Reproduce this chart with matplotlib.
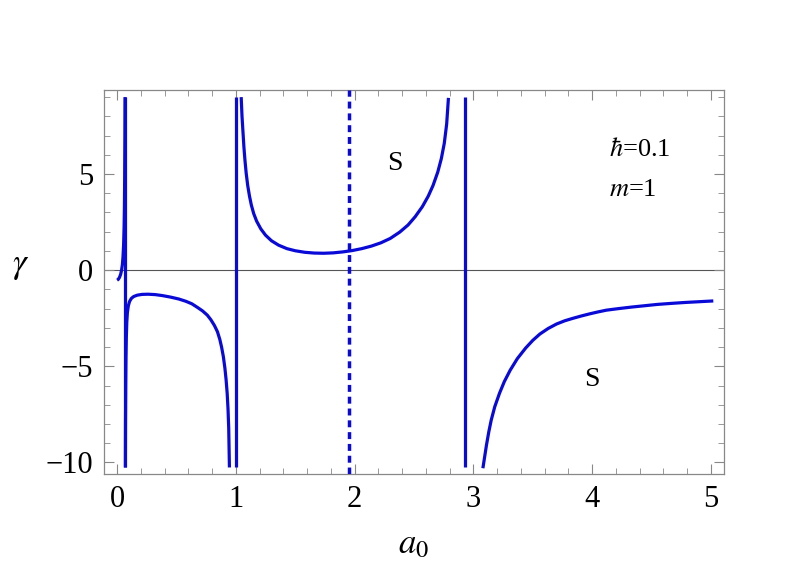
import matplotlib
matplotlib.use("Agg")
import matplotlib.pyplot as plt
from matplotlib.ticker import MultipleLocator

plt.rcParams['font.family'] = ['Liberation Serif', 'DejaVu Serif']
plt.rcParams['mathtext.fontset'] = 'stix'

# branch near 0 (rising to +inf)
b1_x = [0.0, 0.01, 0.02, 0.03, 0.038, 0.045, 0.05, 0.055, 0.059, 0.062, 0.064, 0.066, 0.067]
b1_y = [-0.52, -0.48, -0.38, -0.22, 0.0, 0.3, 0.7, 1.3, 2.2, 3.3, 4.8, 7.0, 9.0]

# branch between 0.07 and 1 (negative)
b2_x = [0.070, 0.071, 0.073, 0.075, 0.078, 0.082, 0.087, 0.095, 0.105, 0.12, 0.14, 0.17, 0.21, 0.26, 0.32, 0.38, 0.45, 0.52, 0.58, 0.63, 0.68, 0.72, 0.76, 0.79, 0.82, 0.845, 0.865, 0.88, 0.895, 0.908, 0.918, 0.927, 0.934, 0.940, 0.946]
b2_y = [-10.26, -8.0, -6.0, -4.6, -3.5, -2.7, -2.2, -1.85, -1.63, -1.47, -1.37, -1.30, -1.26, -1.25, -1.27, -1.32, -1.40, -1.50, -1.62, -1.75, -1.95, -2.12, -2.34, -2.58, -2.88, -3.2, -3.6, -4.0, -4.5, -5.1, -5.7, -6.4, -7.2, -8.2, -10.26]

# branch between 1 and 2.93 (positive)
b3_x = [1.045, 1.052, 1.06, 1.068, 1.077, 1.087, 1.10, 1.115, 1.13, 1.15, 1.175, 1.21, 1.25, 1.30, 1.36, 1.43, 1.50, 1.58, 1.66, 1.74, 1.82, 1.90, 1.98, 2.06, 2.14, 2.22, 2.30, 2.38, 2.45, 2.51, 2.57, 2.62, 2.66, 2.70, 2.73, 2.755, 2.775, 2.79]
b3_y = [9.0, 8.0, 7.2, 6.4, 5.7, 5.05, 4.4, 3.85, 3.4, 2.95, 2.55, 2.15, 1.82, 1.53, 1.3, 1.12, 1.01, 0.93, 0.89, 0.88, 0.9, 0.95, 1.02, 1.12, 1.25, 1.42, 1.65, 1.98, 2.35, 2.78, 3.3, 3.85, 4.4, 5.1, 5.8, 6.6, 7.6, 8.96]

# branch after 2.93 (negative)
b4_x = [3.08, 3.095, 3.11, 3.13, 3.15, 3.18, 3.22, 3.26, 3.31, 3.37, 3.44, 3.50, 3.56, 3.63, 3.70, 3.77, 3.84, 3.91, 3.98, 4.05, 4.12, 4.22, 4.33, 4.44, 4.55, 4.66, 4.78, 4.90, 5.02]
b4_y = [-10.3, -9.7, -9.1, -8.4, -7.8, -7.1, -6.4, -5.8, -5.2, -4.6, -4.05, -3.65, -3.32, -3.03, -2.8, -2.63, -2.5, -2.38, -2.27, -2.17, -2.08, -2.0, -1.92, -1.85, -1.78, -1.73, -1.68, -1.64, -1.6]

# vertical asymptote lines
vlines_x = [0.067, 1.0, 2.93]
dashed_x = 1.95
y_clip = [-10.26, 9.0]

blue = '#0a0ad8'

fig = plt.figure(figsize=(8.0, 5.61), dpi=100)
ax = fig.add_axes([104/800, 1-474/561, (724-104)/800, (474-90)/561])

ax.axhline(0, color='#555555', lw=0.8, zorder=1)
for xs, ys in [(b1_x, b1_y), (b2_x, b2_y), (b3_x, b3_y), (b4_x, b4_y)]:
    ax.plot(xs, ys, color=blue, lw=2.3, solid_capstyle='butt', solid_joinstyle='round', zorder=3)
for xv in vlines_x:
    ax.plot([xv, xv], y_clip, color=blue, lw=2.3, solid_capstyle='butt', zorder=3)
ax.plot([dashed_x, dashed_x], [-10.6, 9.37], color=blue, lw=2.5, ls=(0, (2.0, 1.4)), zorder=3)

ax.set_xlim(-0.11, 5.11)
ax.set_ylim(-10.6, 9.37)

ax.xaxis.set_major_locator(MultipleLocator(1))
ax.xaxis.set_minor_locator(MultipleLocator(0.2))
ax.yaxis.set_major_locator(MultipleLocator(5))
ax.yaxis.set_minor_locator(MultipleLocator(1))
ax.tick_params(which='both', direction='in', top=True, right=True, color='#888888')
ax.tick_params(which='major', length=7, width=0.8, labelsize=22, pad=8)
ax.tick_params(which='minor', length=4, width=0.6)
for s in ax.spines.values():
    s.set_color('#888888')
    s.set_linewidth(0.9)

ax.set_xlabel(r'$a_0$', fontsize=25, labelpad=10)
ax.set_ylabel(r'$\gamma$', fontsize=25, rotation=0, labelpad=14)
ax.yaxis.set_label_coords(-0.135, 0.5)

ax.text(2.34, 5.57, 'S', fontsize=20, ha='center', va='center')
ax.text(4.0, -5.7, 'S', fontsize=20, ha='center', va='center')
ax.text(4.14, 6.25, r'$\hbar$=0.1', fontsize=19, ha='left', va='center')
ax.text(4.14, 4.17, r'$m$=1', fontsize=19, ha='left', va='center')

fig.savefig('out.png', dpi=100)
